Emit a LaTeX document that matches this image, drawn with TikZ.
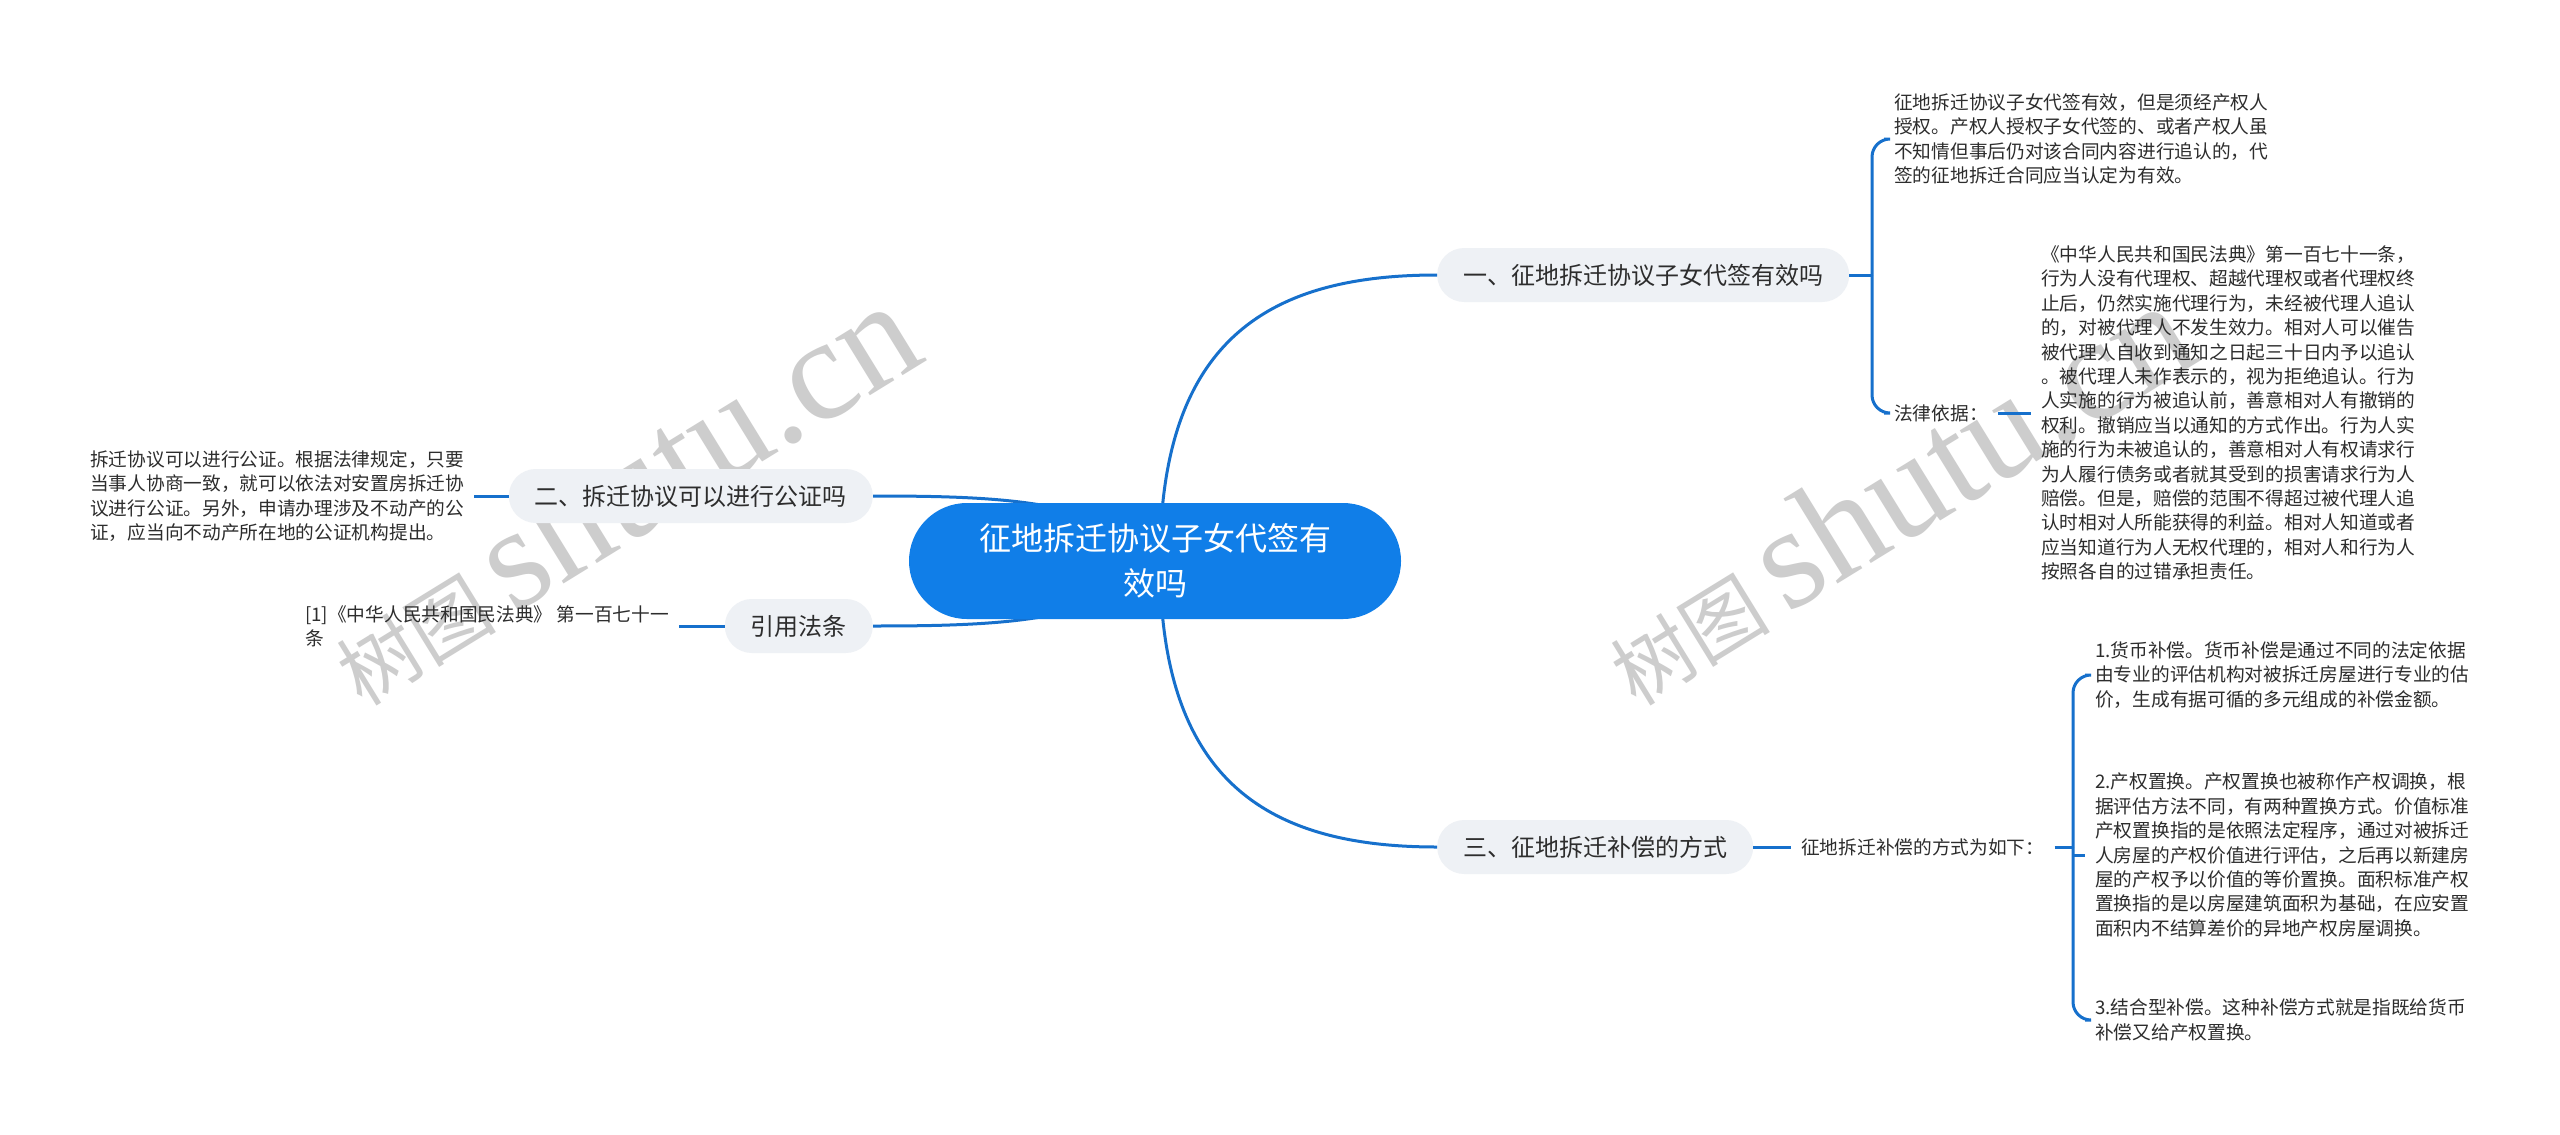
\documentclass[tikz,border=0pt]{standalone}
\usepackage{fontspec}
\newfontfamily\cjk{Noto Sans CJK SC}
\newfontfamily\wmlat{Liberation Serif}
\usetikzlibrary{calc}
\definecolor{mainblue}{RGB}{16,126,232}
\definecolor{linkblue}{RGB}{22,112,204}
\definecolor{subfill}{RGB}{238,241,245}
\definecolor{txt}{RGB}{45,45,45}
\definecolor{wm}{RGB}{205,205,205}
\begin{document}
\begin{tikzpicture}[x=1pt,y=-1pt,
  every node/.style={font=\cjk},
  centernode/.style={fill=mainblue, text=white, rounded corners=58pt, minimum width=492pt, minimum height=116pt, align=center, inner sep=0pt, font=\cjk\fontsize{32pt}{45pt}\selectfont},
  topicnode/.style={fill=subfill, text=txt, rounded corners=27pt, minimum height=54pt, inner xsep=26pt, inner ysep=0pt, font=\cjk\fontsize{24pt}{30pt}\selectfont},
  leaftext/.style={text=txt, align=left, inner xsep=10pt, inner ysep=2pt, font=\cjk\fontsize{18.7pt}{24.4pt}\selectfont},
  conn/.style={draw=linkblue, line width=3pt},
  bracket/.style={conn, rounded corners=18pt},
  wmark/.style={text=wm, rotate=31.6, anchor=base west, inner sep=0pt}
]
\fill[white] (0,0) rectangle (2560,1135);
\path[use as bounding box] (0,0) rectangle (2560,1135);

% watermarks
\node[wmark] (wm1) at (362,708) {\fontsize{80pt}{80pt}\cjk 树图 \wmlat\fontsize{145pt}{145pt}\selectfont shutu.cn};
\node[wmark] (wm2) at (1636,708) {\fontsize{80pt}{80pt}\cjk 树图 \wmlat\fontsize{145pt}{145pt}\selectfont shutu.cn};

% topic nodes
\node[topicnode, anchor=west] (n1) at (1437,275) {一、征地拆迁协议子女代签有效吗};
\node[topicnode, anchor=east] (n2) at (873,496) {二、拆迁协议可以进行公证吗};
\node[topicnode, anchor=east] (n4) at (873,626) {引用法条};
\node[topicnode, anchor=west] (n3) at (1437,847) {三、征地拆迁补偿的方式};

% connectors from centre
\coordinate (cr) at (1160,561);
\coordinate (cl) at (1152,561);
\draw[conn] (cr) .. controls (1160,341) and (1267,275) .. (n1.west);
\draw[conn] (cr) .. controls (1160,781) and (1267,847) .. (n3.west);
\draw[conn] (cl) .. controls (1110,500) and (1000,496) .. (n2.east);
\draw[conn] (cl) .. controls (1110,622) and (1000,626) .. (n4.east);

\node[centernode] (c) at (1155,561) {征地拆迁协议子女代签有\\效吗};

% leaf texts
\node[leaftext, anchor=west] (t1) at (1884,139) {征地拆迁协议子女代签有效，但是须经产权人\\授权。产权人授权子女代签的、或者产权人虽\\不知情但事后仍对该合同内容进行追认的，代\\签的征地拆迁合同应当认定为有效。};
\node[leaftext, anchor=west] (law) at (1884,413) {法律依据：};
\node[leaftext, anchor=west] (lt) at (2031,413) {《中华人民共和国民法典》第一百七十一条，\\行为人没有代理权、超越代理权或者代理权终\\止后，仍然实施代理行为，未经被代理人追认\\的，对被代理人不发生效力。相对人可以催告\\被代理人自收到通知之日起三十日内予以追认\\。被代理人未作表示的，视为拒绝追认。行为\\人实施的行为被追认前，善意相对人有撤销的\\权利。撤销应当以通知的方式作出。行为人实\\施的行为未被追认的，善意相对人有权请求行\\为人履行债务或者就其受到的损害请求行为人\\赔偿。但是，赔偿的范围不得超过被代理人追\\认时相对人所能获得的利益。相对人知道或者\\应当知道行为人无权代理的，相对人和行为人\\按照各自的过错承担责任。};
\node[leaftext, anchor=west] (t2) at (80,496) {拆迁协议可以进行公证。根据法律规定，只要\\当事人协商一致，就可以依法对安置房拆迁协\\议进行公证。另外，申请办理涉及不动产的公\\证，应当向不动产所在地的公证机构提出。};
\node[leaftext, anchor=west] (t4) at (295,626) {[1]《中华人民共和国民法典》 第一百七十一\\条};
\node[leaftext, anchor=west] (lab3) at (1791,847) {征地拆迁补偿的方式为如下：};
\node[leaftext, anchor=west] (i1) at (2085,675) {1.货币补偿。货币补偿是通过不同的法定依据\\由专业的评估机构对被拆迁房屋进行专业的估\\价，生成有据可循的多元组成的补偿金额。};
\node[leaftext, anchor=west] (i2) at (2085,855) {2.产权置换。产权置换也被称作产权调换，根\\据评估方法不同，有两种置换方式。价值标准\\产权置换指的是依照法定程序，通过对被拆迁\\人房屋的产权价值进行评估，之后再以新建房\\屋的产权予以价值的等价置换。面积标准产权\\置换指的是以房屋建筑面积为基础，在应安置\\面积内不结算差价的异地产权房屋调换。};
\node[leaftext, anchor=west] (i3) at (2085,1020) {3.结合型补偿。这种补偿方式就是指既给货币\\补偿又给产权置换。};

% branch 1
\coordinate (j1) at (1872,275);
\draw[conn] (n1.east) -- (j1);
\draw[bracket] (j1) |- (t1.west);
\draw[bracket] (j1) |- (law.west);
\draw[conn] (law.east) -- (lt.west);

% branch 2 and 4
\draw[conn] (t2.east) -- (n2.west);
\draw[conn] (t4.east) -- (n4.west);

% branch 3
\coordinate (j3) at (2073,847);
\draw[conn] (n3.east) -- (lab3.west);
\draw[conn] (lab3.east) -- (j3);
\draw[bracket] (j3) |- (i1.west);
\draw[bracket] (j3) |- (i3.west);
\draw[conn] (j3 |- i2.west) -- (i2.west);
\end{tikzpicture}
\end{document}
